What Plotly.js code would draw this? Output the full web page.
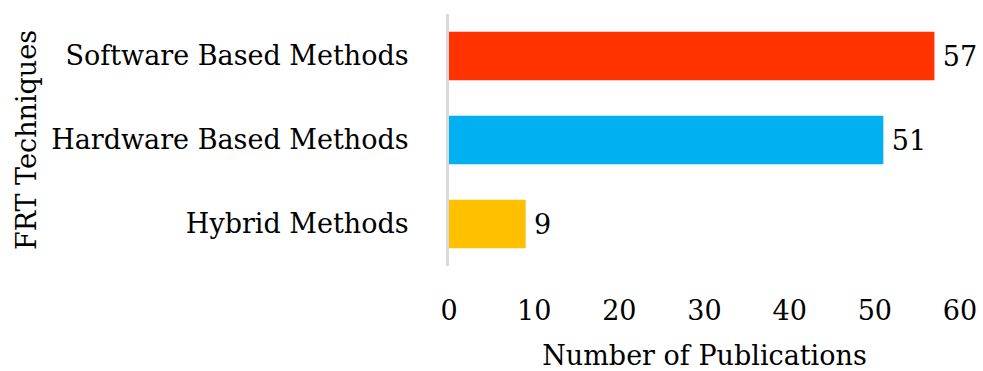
<!DOCTYPE html>
<html>
<head>
<meta charset="utf-8">
<script src="https://cdn.plot.ly/plotly-3.0.1.min.js"></script>
<style>
  html, body { margin: 0; padding: 0; background: #fff; }
  #chart { width: 983px; height: 371px; }
</style>
</head>
<body>
<div id="chart"></div>
<script>
// Publications per FRT technique group
const techniques = ["Software Based Methods", "Hardware Based Methods", "Hybrid Methods"];
const publications = [57, 51, 9];
const barColors = ["#FF3300", "#00B0F0", "#FFC000"];
const xTicks = [0, 10, 20, 30, 40, 50, 60];

const FONT = "DejaVu Serif, Liberation Serif, serif";
const FS = 27;

const trace = {
  type: "bar",
  orientation: "h",
  y: techniques,
  x: publications,
  marker: { color: barColors, line: { width: 0 } },
  text: publications.map(String),
  texttemplate: "\u2009%{text}",
  textposition: "outside",
  textfont: { family: FONT, size: FS, color: "#000" },
  cliponaxis: false,
  hoverinfo: "skip"
};

const layout = {
  width: 983,
  height: 371,
  margin: { l: 449, r: 23, t: 14, b: 105 },
  paper_bgcolor: "#fff",
  plot_bgcolor: "#fff",
  showlegend: false,
  bargap: 0.42,
  font: { family: FONT, size: FS, color: "#000" },
  xaxis: {
    range: [0, 60],
    tickvals: xTicks,
    ticktext: xTicks.map(String),
    showgrid: false,
    zeroline: false,
    showline: false,
    ticks: "outside",
    ticklen: 21,
    tickcolor: "rgba(0,0,0,0)",
    tickfont: { family: FONT, size: FS, color: "#000" },
    title: { text: "Number of Publications", font: { family: FONT, size: FS, color: "#000" }, standoff: 22 },
    fixedrange: true
  },
  yaxis: {
    type: "category",
    categoryorder: "array",
    categoryarray: techniques,
    autorange: "reversed",
    showgrid: false,
    zeroline: false,
    showline: true,
    linecolor: "#d9d9d9",
    linewidth: 3,
    ticks: "outside",
    ticklen: 32,
    tickcolor: "rgba(0,0,0,0)",
    tickfont: { family: FONT, size: FS, color: "#000" },
    title: { text: "FRT Techniques", font: { family: FONT, size: FS, color: "#000" }, standoff: 7 },
    fixedrange: true
  }
};

Plotly.newPlot("chart", [trace], layout, { displayModeBar: false, staticPlot: true });
</script>
</body>
</html>
